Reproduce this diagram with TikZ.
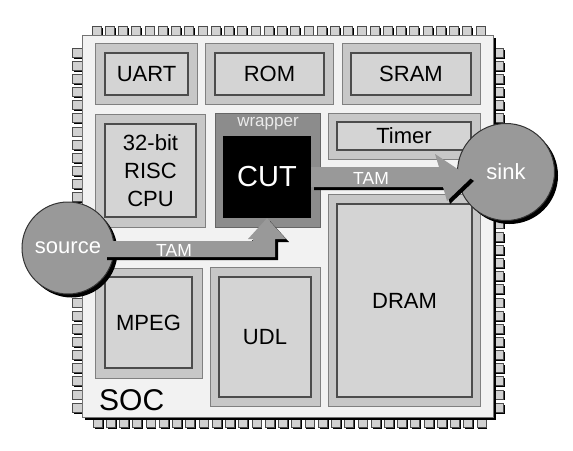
\documentclass[tikz,border=0pt]{standalone}
\usepackage{fontspec}
\setmainfont{Liberation Sans}
\usetikzlibrary{shadows}

\begin{document}
\begin{tikzpicture}[x=1pt,y=-1pt,inner sep=0pt,
  shadowed/.style={drop shadow={shadow xshift=#1,shadow yshift=-#1,fill=black,opacity=1}},
  pin/.style={draw=black!70,fill=black!18,line width=0.6pt,shadowed=1.5pt},
  body/.style={draw=black!55,fill=black!5,line width=0.8pt,shadowed=3pt},
  shell/.style={draw=black!50,fill=black!22,line width=0.8pt},
  core/.style={draw=black!70,fill=black!17,line width=1.2pt,align=center,font=\fontsize{22}{28}\selectfont},
  port/.style={circle,draw=black!80,fill=black!40,line width=1pt,text=white,font=\fontsize{22}{26}\selectfont,shadowed=3.5pt},
  tam/.style={fill=black!40,shadowed=3pt},
  tamlbl/.style={text=white,font=\fontsize{17.5}{20}\selectfont}]
  \useasboundingbox (0,0) rectangle (573,450);
  \foreach \i in {0,...,29}{
    \draw[pin] ({92+13.24*\i},26) rectangle +(9,9);
    \draw[pin] ({93+13.24*\i},417) rectangle +(9,10);
  }
  \foreach \i in {0,...,27}{
    \draw[pin] (72,{48+13.15*\i}) rectangle +(10,9);
    \draw[pin] (493,{48+13.15*\i}) rectangle +(10,9);
  }
  \draw[body] (82,35) rectangle (493,417);
  \node[anchor=base west,font=\fontsize{30}{32}\selectfont] (soc) at (99,410) {SOC};

  \draw[shell] (95,43) rectangle (197,104);
  \draw[shell] (205,43) rectangle (333,104);
  \draw[shell] (342,43) rectangle (480,104);
  \draw[shell] (95,114) rectangle (205,227);
  \draw[shell] (328,113) rectangle (480,159);
  \draw[shell] (95,268) rectangle (202,378);
  \draw[shell] (210,267) rectangle (320,406);
  \draw[shell] (328,194) rectangle (480,406);
  \node[core,minimum width=83,minimum height=42] (uart) at (146.5,74) {UART};
  \node[core,minimum width=109,minimum height=42] (rom) at (269.5,74) {ROM};
  \node[core,minimum width=120,minimum height=42] (sram) at (411,74) {SRAM};
  \node[core,minimum width=91,minimum height=93] (cpu) at (150.5,170.5) {32-bit\\RISC\\CPU};
  \node[core,minimum width=134,minimum height=28] (timer) at (404,136) {Timer};
  \node[core,minimum width=87,minimum height=91] (mpeg) at (148.5,322.5) {MPEG};
  \node[core,minimum width=92,minimum height=120] (udl) at (265,337) {UDL};
  \node[core,minimum width=135,minimum height=193] (dram) at (404.5,300.5) {DRAM};

  \draw[draw=black!60,fill=black!45,line width=0.8pt] (215,113) rectangle (320,227);
  \node[text=black!8,font=\fontsize{17}{20}\selectfont] (wrapper) at (268,124) {wrapper};
  \node[fill=black,minimum width=88,minimum height=82,text=white,font=\fontsize{29}{32}\selectfont] (cut) at (267,177) {CUT};

  \node[port,minimum size=92] (source) at (68,248) {source};
  \node[port,minimum size=97] (sink) at (506,172) {sink};

  \fill[tam] (104,241) -- (253,241) -- (253,239) -- (248,239) -- (cut.south) -- (286,239) -- (275,239) -- (275,257) -- (104,257) -- cycle;
  \fill[tam] (311,167) -- (439,167) -- (435,154) -- (471,178) -- (447,201) -- (443,187) -- (311,187) -- cycle;
  \node[tamlbl] (tamin) at (174,250) {TAM};
  \node[tamlbl] (tamout) at (371,178) {TAM};
\end{tikzpicture}
\end{document}
